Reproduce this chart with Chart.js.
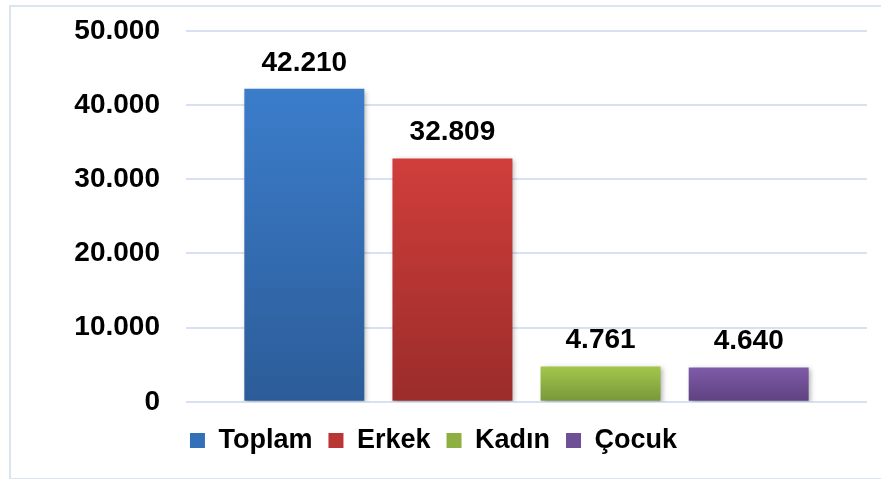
<!DOCTYPE html>
<html>
<head>
<meta charset="utf-8">
<script src="https://cdn.jsdelivr.net/npm/chart.js"></script>
<style>
  html, body { margin: 0; padding: 0; background: #fff; }
  #wrap { position: relative; width: 881px; height: 479px; overflow: hidden; }
  #frame { position: absolute; left: 9px; top: 5px; width: 900px; height: 471px; border: 2px solid #dbe5f2; }
  canvas { position: absolute; left: 0; top: 0; }
</style>
</head>
<body>
<div id="wrap">
  <div id="frame"></div>
  <canvas id="chart" width="881" height="479"></canvas>
</div>
<script>
  // Data
  const seriesNames = ['Toplam', 'Erkek', 'Kadın', 'Çocuk'];
  const seriesValues = [42210, 32809, 4761, 4640];
  const topColors = ['#3b7dcb', '#d03e3b', '#a2c74c', '#7f5ba8'];
  const bottomColors = ['#2c5c98', '#9a2c2a', '#77973a', '#5e4180'];
  const midColors = ['#3470b8', '#b93634', '#8eb043', '#6f4f96'];
  const yMax = 50000;
  const yStep = 10000;

  const fmt = (v) => String(v).replace(/\B(?=(\d{3})+(?!\d))/g, '.');
  const FONT = "'Liberation Sans', Arial, sans-serif";

  const gradientFor = (i) => (ctx) => {
    const chart = ctx.chart;
    if (!chart.chartArea || !chart.scales.y) return midColors[i];
    const y = chart.scales.y;
    const top = y.getPixelForValue(seriesValues[i]);
    const bottom = y.getPixelForValue(0);
    const g = chart.ctx.createLinearGradient(0, top, 0, bottom);
    g.addColorStop(0, topColors[i]);
    g.addColorStop(1, bottomColors[i]);
    return g;
  };

  // soft shadow behind the bars
  const shadowPlugin = {
    id: 'barShadow',
    beforeDatasetsDraw(chart) {
      const c = chart.ctx;
      c.save();
      c.shadowColor = 'rgba(0,0,0,0.3)';
      c.shadowBlur = 5;
      c.shadowOffsetX = 2;
      c.shadowOffsetY = 2;
    },
    afterDatasetsDraw(chart) {
      chart.ctx.restore();
    }
  };

  // value labels above bars
  const valueLabels = {
    id: 'valueLabels',
    afterDraw(chart) {
      const c = chart.ctx;
      c.save();
      c.font = `bold 28px ${FONT}`;
      c.fillStyle = '#000';
      c.textAlign = 'center';
      c.textBaseline = 'alphabetic';
      chart.data.datasets.forEach((ds, i) => {
        const bar = chart.getDatasetMeta(i).data[0];
        c.fillText(fmt(ds.data[0]), bar.x, bar.y - 18);
      });
      c.restore();
    }
  };

  new Chart(document.getElementById('chart'), {
    type: 'bar',
    data: {
      labels: [''],
      datasets: seriesNames.map((name, i) => ({
        label: name,
        data: [seriesValues[i]],
        backgroundColor: gradientFor(i),
        borderWidth: 0,
        categoryPercentage: 0.87,
        barPercentage: 0.81
      }))
    },
    options: {
      responsive: false,
      animation: false,
      layout: { padding: { left: 0, right: 14, top: 31, bottom: 15 } },
      scales: {
        x: { display: false },
        y: {
          min: 0,
          max: yMax,
          afterFit: (scale) => {
            scale.width = 186;
            scale.paddingTop = 0;
            scale.paddingBottom = 0;
          },
          border: { display: false },
          grid: { color: '#d6e2f1', lineWidth: 2, drawTicks: false },
          ticks: {
            stepSize: yStep,
            padding: 26,
            color: '#000',
            font: { family: FONT, size: 28, weight: 'bold' },
            callback: (v) => fmt(v)
          }
        }
      },
      plugins: {
        tooltip: { enabled: false },
        legend: {
          position: 'bottom',
          title: { display: true, text: ' ', font: { size: 1 }, padding: { top: 8, bottom: 0 } },
          labels: {
            boxWidth: 15,
            boxHeight: 15,
            padding: 16,
            color: '#000',
            font: { family: FONT, size: 27, weight: 'bold' },
            generateLabels: (chart) => {
              const items = Chart.defaults.plugins.legend.labels.generateLabels(chart);
              items.forEach((it, i) => { it.fillStyle = midColors[i]; it.strokeStyle = midColors[i]; it.lineWidth = 0; });
              return items;
            }
          }
        }
      }
    },
    plugins: [shadowPlugin, valueLabels]
  });
</script>
</body>
</html>
